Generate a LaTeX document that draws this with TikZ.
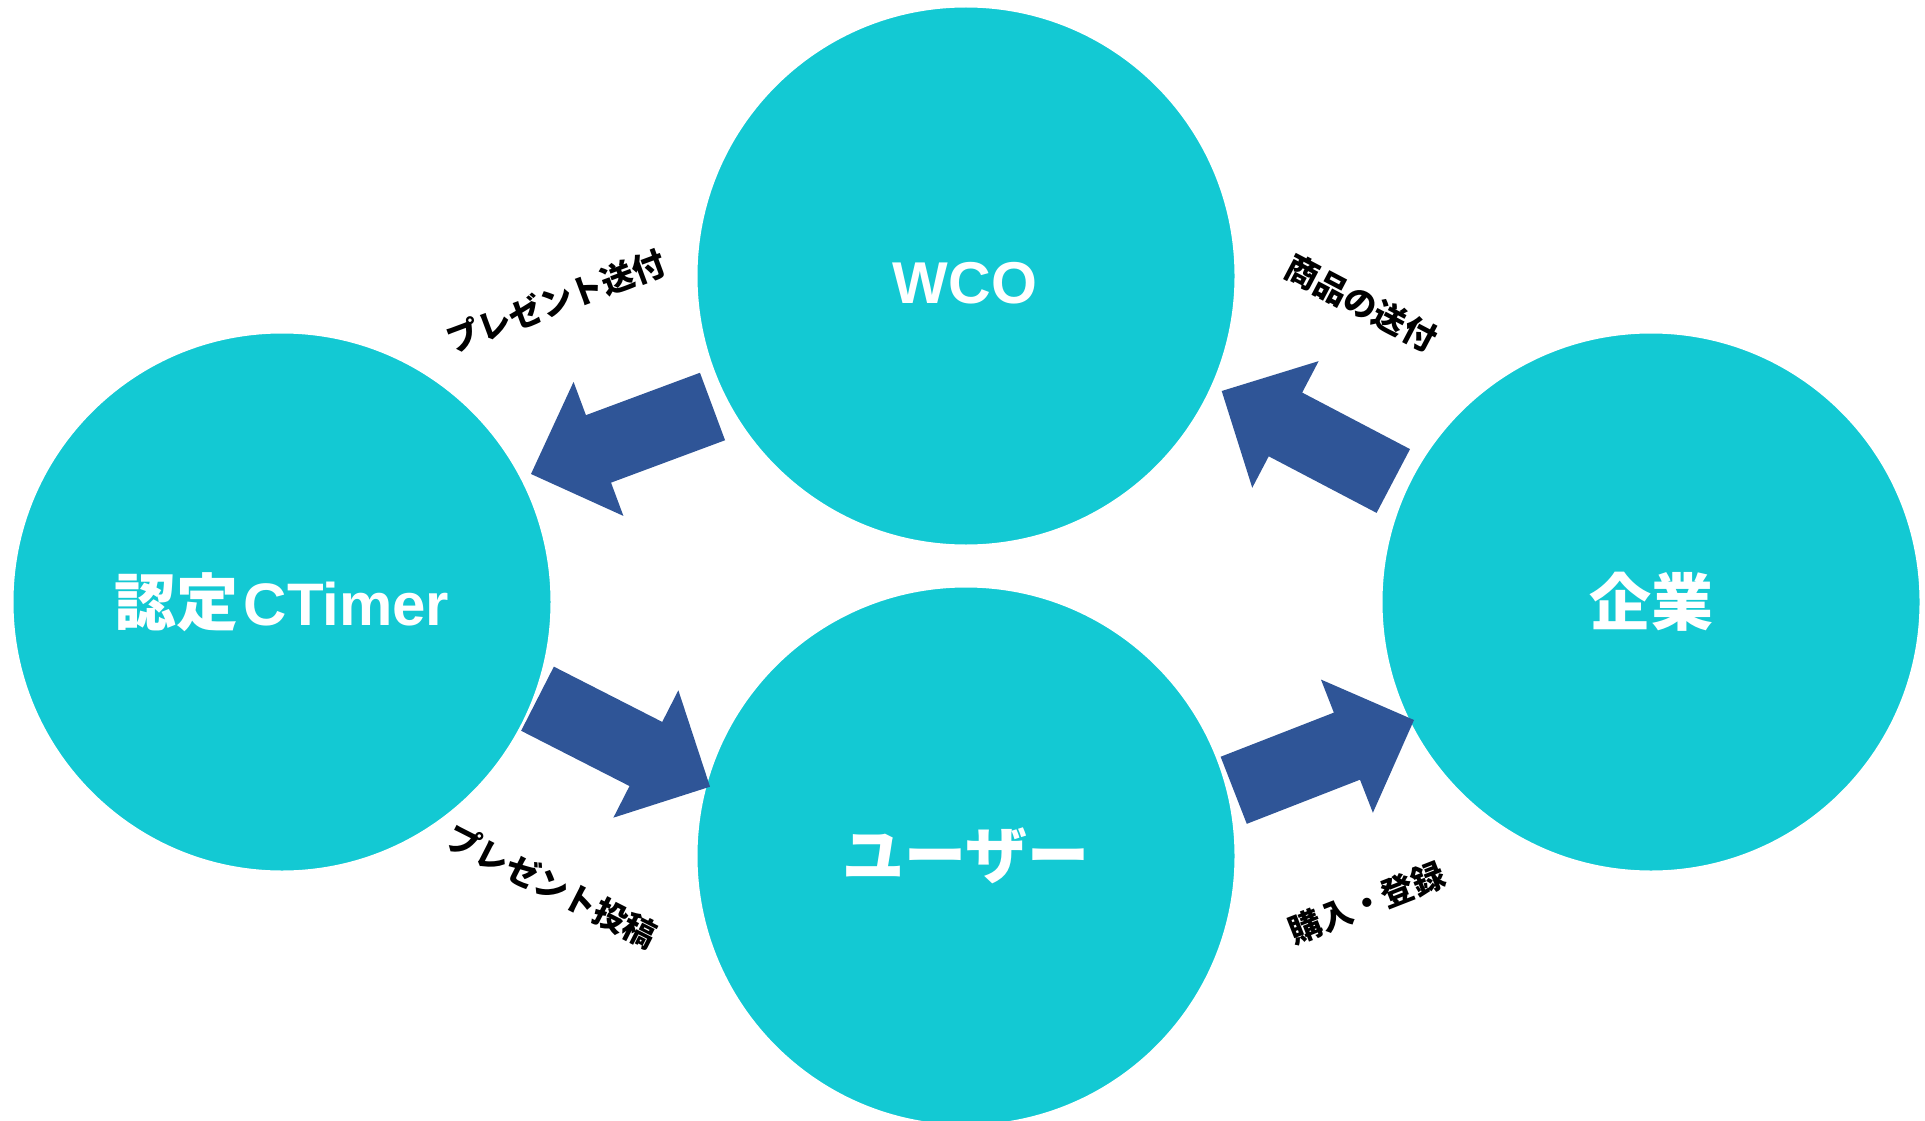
\documentclass[tikz,border=0pt]{standalone}
\usepackage{fontspec}
\setmainfont{Noto Sans CJK JP}
\newfontfamily\latinfont{Liberation Sans}
\usetikzlibrary{calc}
\definecolor{circfill}{RGB}{19,201,211}
\definecolor{arrowblue}{RGB}{47,85,151}
\newcommand{\blockarrow}[2]{%
  \path ($(#2)!72pt!(#1)$) coordinate (bH);
  \fill[arrowfill] ($(#1)!36pt!90:(#2)$) -- ($(bH)!36pt!90:(#2)$) -- ($(bH)!71.5pt!90:(#2)$) -- (#2)
     -- ($(bH)!71.5pt!-90:(#2)$) -- ($(bH)!36pt!-90:(#2)$) -- ($(#1)!36pt!-90:(#2)$) -- cycle;}
\begin{document}
\begin{tikzpicture}[x=1pt,y=-1pt,
  hub/.style={circle, fill=circfill, draw=white, line width=3pt, minimum size=540pt, inner sep=0pt,
    text=white, font=\fontsize{62}{70}\selectfont\bfseries},
  hubtext/.style={text=white, inner sep=0pt},
  edgelabel/.style={text=black, inner sep=0pt, font=\fontsize{33}{36}\selectfont\bfseries},
  arrowfill/.style={fill=arrowblue}]
\useasboundingbox (0,0) rectangle (1925,1121);
\clip (0,0) rectangle (1925,1121);
% hubs
\node[hub] (wco) at (966,276) {};
\node[hubtext, font=\latinfont\fontsize{59}{66}\selectfont\bfseries] (wcotext) at (965,283) {WCO};
\node[hub] (ctimer) at (282,602) {認定\kern5pt{\latinfont\fontsize{60}{66}\selectfont\bfseries CTimer}};
\node[hub] (user) at (966,856) {ユーザー};
\node[hub] (corp) at (1651,602) {企業};
% arrows
\coordinate (a1s) at (712.5,406.5); \coordinate (a1e) at (531,474);
\coordinate (a2s) at (1393.3,481);  \coordinate (a2e) at (1221.7,391);
\coordinate (a3s) at (537.5,698.7); \coordinate (a3e) at (710,786.7);
\coordinate (a4s) at (1233.7,790.3); \coordinate (a4e) at (1414,720);
\blockarrow{a1s}{a1e}
\blockarrow{a2s}{a2e}
\blockarrow{a3s}{a3e}
\blockarrow{a4s}{a4e}
% labels
\node[edgelabel, rotate=20.4] (l1) at (556,301) {プレゼント送付};
\node[edgelabel, rotate=-27.7] (l2) at (1361,303) {商品の送付};
\node[edgelabel, rotate=-27] (l3) at (552,886) {プレゼント投稿};
\node[edgelabel, rotate=21.3] (l4) at (1367,903) {購入・登録};
\end{tikzpicture}
\end{document}
